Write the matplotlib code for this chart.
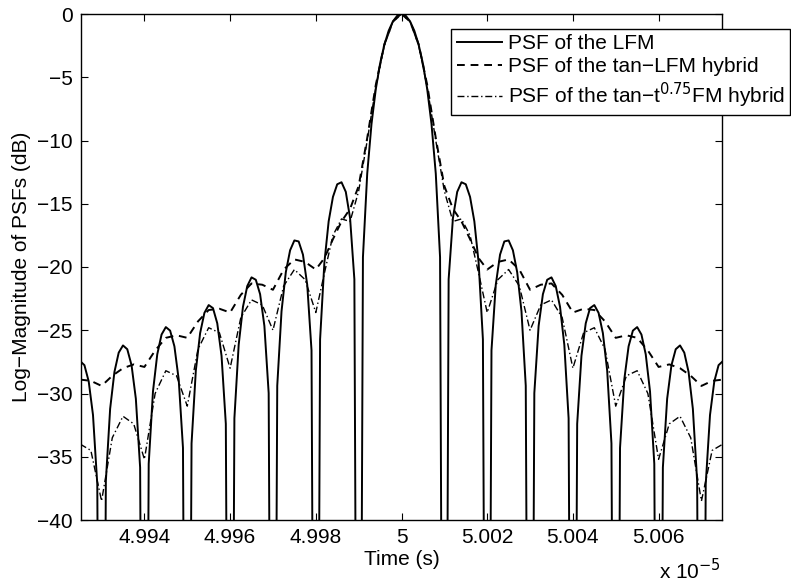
import numpy as np
import matplotlib
matplotlib.use("Agg")
import matplotlib.pyplot as plt

plt.rcParams['font.family'] = ['Liberation Sans', 'DejaVu Sans']
plt.rcParams['font.size'] = 15

# centre of the PSFs (units of 1e-5 s) and offsets from it (units of 1e-8 s)
t_centre = 5.0

# PSF of the LFM, one side (offset, dB); the curve is symmetric about the centre
lfm_off = [0.0, 0.1, 0.2, 0.3, 0.4, 0.5, 0.6, 0.7, 0.8, 0.9, 1.0,
           1.1, 1.2, 1.3, 1.4, 1.5, 1.6, 1.7, 1.8, 1.9, 2.0,
           2.1, 2.2, 2.3, 2.4, 2.5, 2.6, 2.7, 2.8, 2.9, 3.0,
           3.1, 3.2, 3.3, 3.4, 3.5, 3.6, 3.7, 3.8, 3.9, 4.0,
           4.1, 4.2, 4.3, 4.4, 4.5, 4.6, 4.7, 4.8, 4.9, 5.0,
           5.1, 5.2, 5.3, 5.4, 5.5, 5.6, 5.7, 5.8, 5.9, 6.0,
           6.1, 6.2, 6.3, 6.4, 6.5, 6.6, 6.7, 6.8, 6.9, 7.0,
           7.1, 7.2, 7.3, 7.4, 7.5]
lfm_db = [0.0, -0.14, -0.58, -1.33, -2.42, -3.92, -5.94, -8.69, -12.62, -19.23, -100,
          -20.97, -16.14, -14.06, -13.30, -13.46, -14.46, -16.39, -19.66, -25.72, -100,
          -26.59, -21.41, -19.02, -17.98, -17.90, -18.68, -20.41, -23.50, -29.39, -100,
          -29.97, -24.66, -22.15, -21.01, -20.82, -21.51, -23.15, -26.15, -31.96, -100,
          -32.40, -27.02, -24.45, -23.25, -23.01, -23.63, -25.23, -28.18, -33.95, -100,
          -34.30, -28.88, -26.27, -25.03, -24.75, -25.34, -26.90, -29.83, -35.56, -100,
          -35.85, -30.41, -27.77, -26.50, -26.20, -26.77, -28.30, -31.21, -36.92, -100,
          -37.17, -31.70, -29.05, -27.76, -27.44]

# PSF of the tan-LFM hybrid, one side
hyb_off = [0.0, 0.2, 0.4, 0.6, 0.8, 1.0, 1.2, 1.4, 1.6, 1.8, 2.0,
           2.25, 2.5, 2.75, 3.0, 3.25, 3.5, 3.75, 4.0, 4.25, 4.5, 4.75, 5.0,
           5.25, 5.5, 5.75, 6.0, 6.25, 6.5, 6.75, 7.0, 7.25, 7.5]
hyb_db = [0.0, -0.6, -2.4, -5.6, -9.8, -13.6, -15.4, -16.4, -17.8, -19.3, -20.2,
          -19.6, -19.4, -20.2, -21.8, -21.4, -21.3, -22.2, -23.6, -23.3, -23.4, -24.3, -25.6,
          -25.4, -25.6, -26.6, -27.9, -27.7, -28.0, -28.6, -29.4, -29.0, -28.9]

# PSF of the tan-t^0.75 FM hybrid, one side
t75_off = [0.0, 0.2, 0.4, 0.6, 0.8, 1.0, 1.2, 1.4, 1.6, 1.8, 2.0,
           2.25, 2.5, 2.75, 3.0, 3.25, 3.5, 3.75, 4.0, 4.25, 4.5, 4.75, 5.0,
           5.25, 5.5, 5.75, 6.0, 6.25, 6.5, 6.75, 7.0, 7.25, 7.5]
t75_db = [0.0, -0.6, -2.5, -5.8, -10.0, -14.0, -16.4, -16.2, -17.5, -20.5, -23.6,
          -21.0, -20.2, -21.5, -25.0, -23.0, -22.6, -24.0, -28.0, -25.2, -24.8, -26.5, -31.0,
          -28.6, -28.2, -30.0, -35.2, -32.4, -31.8, -33.5, -38.5, -34.5, -34.0]


def both_sides(off, db):
    off = np.asarray(off) / 1000.0
    db = np.asarray(db)
    x = np.concatenate([t_centre - off[::-1], t_centre + off[1:]])
    y = np.concatenate([db[::-1], db[1:]])
    return x, y


fig = plt.figure(figsize=(7.91, 5.83), dpi=100)
ax = fig.add_axes([81 / 791, 1 - 520 / 583, (722 - 81) / 791, (520 - 14) / 583])

x, y = both_sides(lfm_off, lfm_db)
ax.plot(x, y, color='black', lw=1.4, ls='-', label='PSF of the LFM')
x, y = both_sides(hyb_off, hyb_db)
ax.plot(x, y, color='black', lw=1.4, ls=(0, (4, 3)), label='PSF of the tan\u2212LFM hybrid')
x, y = both_sides(t75_off, t75_db)
ax.plot(x, y, color='black', lw=1.0, ls=(0, (5, 2, 1, 2)),
        label='PSF of the tan\u2212t$^{0.75}$FM hybrid')

ax.set_xlim(4.99252, 5.00748)
ax.set_ylim(-40, 0)
ax.set_xticks([4.994, 4.996, 4.998, 5.0, 5.002, 5.004, 5.006])
ax.set_xticklabels(['4.994', '4.996', '4.998', '5', '5.002', '5.004', '5.006'])
ax.set_yticks(np.arange(-40, 1, 5))
ax.tick_params(direction='in', top=True, right=True, length=5, width=0.8, pad=6)
for s in ax.spines.values():
    s.set_linewidth(1.0)

ax.set_xlabel('Time (s)', labelpad=2)
ax.set_ylabel('Log\u2212Magnitude of PSFs (dB)', labelpad=4)
fig.text(721 / 791, 1 - 571 / 583, 'x 10$^{-5}$', ha='right', va='center')

leg = ax.legend(loc='upper right', bbox_to_anchor=(790 / 791, 1 - 29 / 583),
                bbox_transform=fig.transFigure, fancybox=False, framealpha=1,
                edgecolor='black', borderpad=0.25, labelspacing=0.2,
                handlelength=2.2, handletextpad=0.25, borderaxespad=0)
leg.get_frame().set_linewidth(1.0)

fig.savefig('out.png', dpi=100)
